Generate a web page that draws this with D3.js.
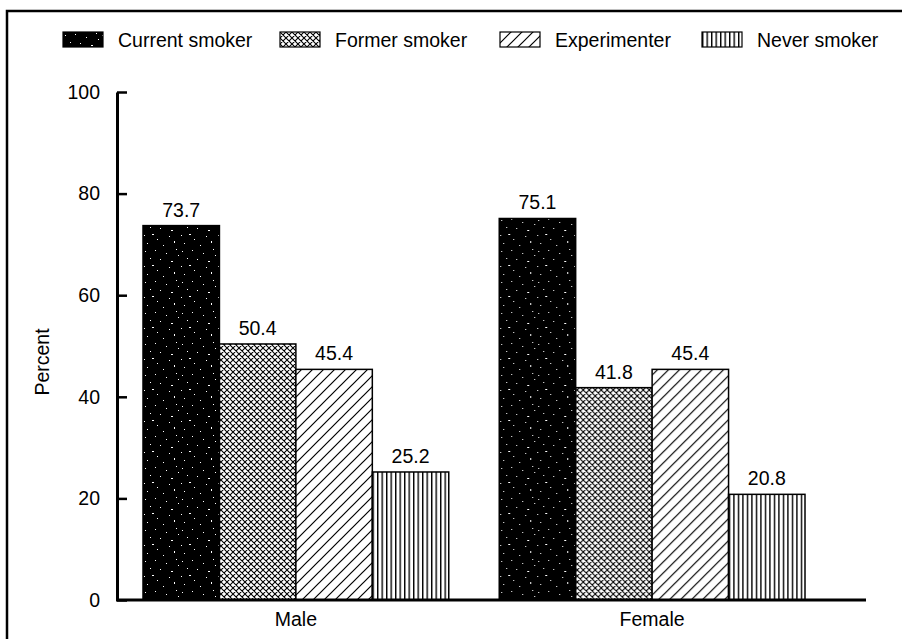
<!DOCTYPE html>
<html>
<head>
<meta charset="utf-8">
<script src="https://cdn.jsdelivr.net/npm/d3@7"></script>
<style>
  html, body { margin: 0; padding: 0; background: #fff; }
  svg { display: block; }
  text { font-family: "Liberation Sans", Arial, Helvetica, sans-serif; fill: #000; }
</style>
</head>
<body>
<svg id="chart" width="902" height="639"></svg>
<script>
// ---- Data ----
const groups = ["Male", "Female"];
const series = ["Current smoker", "Former smoker", "Experimenter", "Never smoker"];
const maleValues = [73.7, 50.4, 45.4, 25.2];
const femaleValues = [75.1, 41.8, 45.4, 20.8];
const yTicks = [0, 20, 40, 60, 80, 100];
const yLabel = "Percent";

const valuesByGroup = { Male: maleValues, Female: femaleValues };

const svg = d3.select("#chart");
const FS = 19.5;

// ---- Patterns ----
const defs = svg.append("defs");
// speckled black
const pSpeck = defs.append("pattern").attr("id", "p0").attr("patternUnits", "userSpaceOnUse")
  .attr("width", 37).attr("height", 31);
pSpeck.append("rect").attr("width", 37).attr("height", 31).attr("fill", "#000");
const specks = [[2,3,1,1],[9,17,2,1],[23,5,1,1],[31,24,1,2],[4,26,1,1],[17,11,1,1],[28,13,2,1],
                [12,2,1,1],[35,7,1,1],[20,28,1,1],[7,10,1,1],[14,22,1,1],[26,19,1,1],[33,1,1,1],[1,18,1,1]];
specks.forEach(([x,y,w,h]) => pSpeck.append("rect").attr("x", x).attr("y", y).attr("width", w).attr("height", h).attr("fill", "#fff"));
// crosshatch
const pCross = defs.append("pattern").attr("id", "p1").attr("patternUnits", "userSpaceOnUse")
  .attr("width", 6).attr("height", 6);
pCross.append("rect").attr("width", 6).attr("height", 6).attr("fill", "#fff");
pCross.append("path").attr("d", "M0,0L6,6M-1,5L1,7M5,-1L7,1M6,0L0,6M-1,1L1,-1M5,7L7,5")
  .attr("stroke", "#000").attr("stroke-width", 1.1);
// diagonal lines "/"
const pDiag = defs.append("pattern").attr("id", "p2").attr("patternUnits", "userSpaceOnUse")
  .attr("width", 11).attr("height", 11);
pDiag.append("rect").attr("width", 11).attr("height", 11).attr("fill", "#fff");
pDiag.append("path").attr("d", "M0,11L11,0M-2,2L2,-2M9,13L13,9")
  .attr("stroke", "#000").attr("stroke-width", 1.2);
// vertical lines
const pVert = defs.append("pattern").attr("id", "p3").attr("patternUnits", "userSpaceOnUse")
  .attr("width", 4.5).attr("height", 10);
pVert.append("rect").attr("width", 4.5).attr("height", 10).attr("fill", "#fff");
pVert.append("rect").attr("x", 0).attr("width", 1.4).attr("height", 10).attr("fill", "#000");

const fills = series.map((s, i) => `url(#p${i})`);
const color = d3.scaleOrdinal().domain(series).range(fills);

// ---- Frame ----
svg.append("rect").attr("x", 7).attr("y", 11).attr("width", 1000).attr("height", 1000)
  .attr("fill", "none").attr("stroke", "#000").attr("stroke-width", 2.5);

// ---- Scales ----
const y = d3.scaleLinear().domain([0, 100]).range([600, 92]);
const x0 = d3.scaleBand().domain(groups).range([143, 805]).paddingInner(0.1417).paddingOuter(0);
const x1 = d3.scaleBand().domain(series).range([0, x0.bandwidth()]).padding(0);

// ---- Bars ----
const g = svg.append("g");
groups.forEach(grp => {
  const gg = g.append("g").attr("transform", `translate(${x0(grp)},0)`);
  const data = series.map((s, i) => ({ s, v: valuesByGroup[grp][i] }));
  gg.selectAll("rect").data(data).join("rect")
    .attr("x", d => x1(d.s))
    .attr("y", d => y(d.v))
    .attr("width", x1.bandwidth())
    .attr("height", d => y(0) - y(d.v))
    .attr("fill", d => color(d.s))
    .attr("stroke", "#000").attr("stroke-width", 1.5);
  gg.selectAll("text.val").data(data).join("text").attr("class", "val")
    .attr("x", d => x1(d.s) + x1.bandwidth() / 2)
    .attr("y", d => y(d.v) - 9)
    .attr("text-anchor", "middle")
    .style("font-size", FS + "px")
    .text(d => d.v.toFixed(1));
});

// ---- Y axis ----
const yAxis = d3.axisLeft(y).tickValues(yTicks).tickSizeInner(-10).tickSizeOuter(0).tickPadding(17);
const ya = svg.append("g").attr("transform", "translate(117,0)").call(yAxis);
ya.select(".domain").attr("stroke", "#000").attr("stroke-width", 3);
ya.selectAll(".tick line").attr("stroke", "#000").attr("stroke-width", 2.5);
ya.selectAll(".tick text").style("font-size", FS + "px").style("font-family", "Liberation Sans, Arial, sans-serif").attr("fill", "#000");

// ---- X axis ----
const xAxis = d3.axisBottom(x0).tickSize(0).tickPadding(12);
const xa = svg.append("g").attr("transform", "translate(0,600)").call(xAxis);
xa.select(".domain").remove();
xa.append("line").attr("x1", 116).attr("x2", 866).attr("y1", 0).attr("y2", 0)
  .attr("stroke", "#000").attr("stroke-width", 3);
xa.selectAll(".tick text").style("font-size", FS + "px").style("font-family", "Liberation Sans, Arial, sans-serif").attr("fill", "#000");

// ---- Y label ----
svg.append("text").attr("transform", "translate(49,362) rotate(-90)")
  .attr("text-anchor", "middle").style("font-size", FS + "px").text(yLabel);

// ---- Legend ----
const legendX = [63, 280, 500, 702];
const legend = svg.append("g").selectAll("g").data(series).join("g")
  .attr("transform", (d, i) => `translate(${legendX[i]},32)`);
legend.append("rect").attr("width", 40).attr("height", 15)
  .attr("fill", d => color(d)).attr("stroke", "#000").attr("stroke-width", 1.2);
legend.append("text").attr("x", 55).attr("y", 14.5).style("font-size", FS + "px").text(d => d);
</script>
</body>
</html>
